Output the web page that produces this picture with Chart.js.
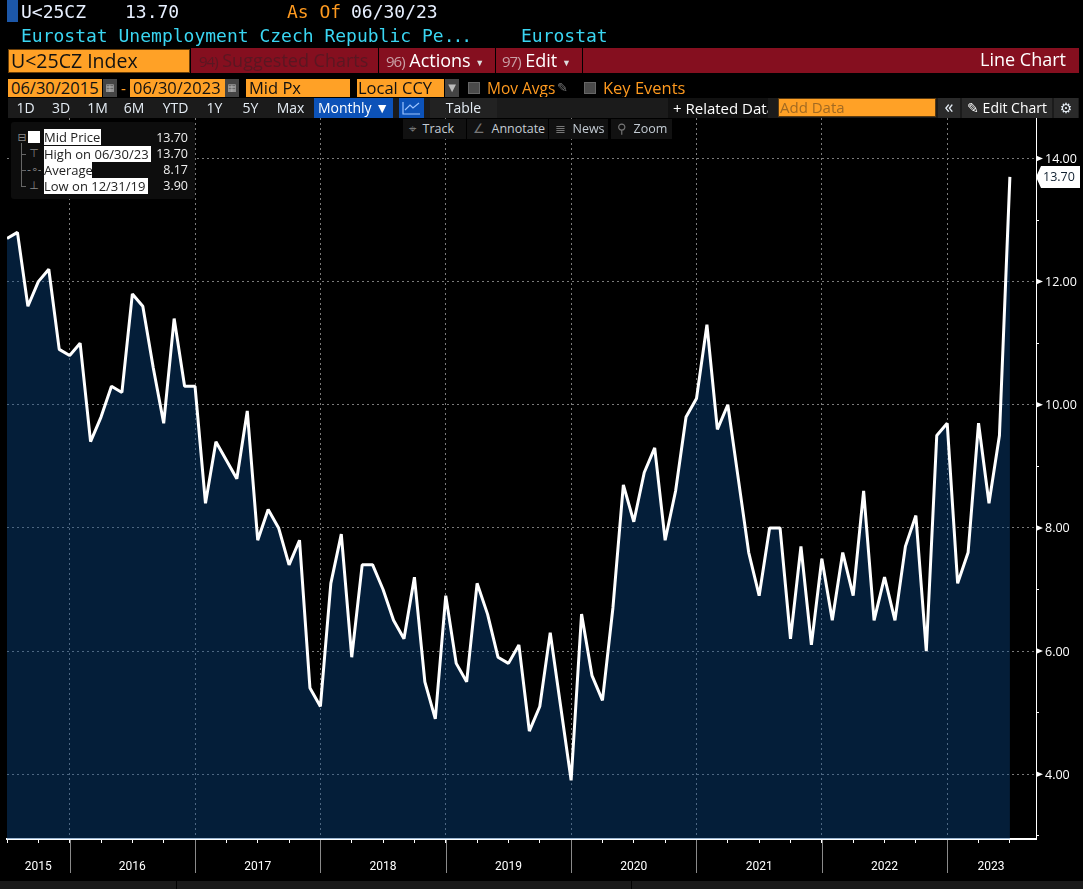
<!DOCTYPE html>
<html>
<head>
<meta charset="utf-8">
<title>U&lt;25CZ Index</title>
<script src="https://cdn.jsdelivr.net/npm/chart.js@4"></script>
<style>
  html, body { margin: 0; padding: 0; background: #000; width: 1083px; height: 889px; overflow: hidden; }
  #chart { position: absolute; left: 0; top: 0; }
  .a { position: absolute; box-sizing: border-box; white-space: nowrap; overflow: hidden; }
  .mono { font: 18px "DejaVu Sans Mono", monospace; line-height: 22px; }
  .ui { font: 18px "Open Sans", sans-serif; line-height: 24px; }
  .ui .n { font-size: 15px; letter-spacing: -1px; }
  .in { background: #ffa126; color: #111; font: 16.5px "Open Sans", sans-serif; line-height: 18px; padding-left: 3px; }
  .org { color: #ff9a1f; font: 15.5px "Open Sans", sans-serif; line-height: 18px; }
  .btn { background: #1b1b1b; color: #e4ecf4; font: 14px "Open Sans", sans-serif; line-height: 20px; text-align: center; }
  .tool { background: #111; color: #c4ccd4; font: 12.5px "Open Sans", sans-serif; line-height: 20px; }
  .cal { background: #444; color: #bbb; font: 10px "DejaVu Sans", sans-serif; line-height: 18px; text-align: center; }
  .chk { background: #4a4a4a; border: 1px solid #666; }
  .lg { background: #fff; color: #222; font: 13px "Open Sans", sans-serif; line-height: 16px; padding-left: 0; }
  .lv { color: #f0f0f0; font: 12.5px "Open Sans", sans-serif; line-height: 16px; text-align: right; }
  .tree { color: #888; font: 11px "DejaVu Sans", sans-serif; line-height: 16px; text-align: center; }
</style>
</head>
<body>
<canvas id="chart" width="1083" height="889"></canvas>

<!-- header -->
<div class="a" style="left:7px;top:0;width:11px;height:22px;background:#1c57a8"></div>
<div class="a mono" style="left:21px;top:1px;color:#e8f0ff">U&lt;25CZ</div>
<div class="a mono" style="left:125px;top:1px;color:#e8f0ff">13.70</div>
<div class="a mono" style="left:287px;top:1px;color:#ff9a1f">As Of</div>
<div class="a mono" style="left:351px;top:1px;color:#e8f0ff">06/30/23</div>
<div class="a mono" style="left:21px;top:25px;color:#3ad6f2">Eurostat Unemployment Czech Republic Pe<span style="letter-spacing:-2px">...</span></div>
<div class="a mono" style="left:521px;top:25px;color:#3ad6f2">Eurostat</div>

<!-- red bar -->
<div class="a" style="left:191px;top:48px;width:888px;height:25px;background:#850f1f"></div>
<div class="a" style="left:378px;top:48px;width:1px;height:25px;background:#000"></div>
<div class="a" style="left:495px;top:48px;width:1px;height:25px;background:#000"></div>
<div class="a" style="left:582px;top:48px;width:1px;height:25px;background:#000"></div>
<div class="a ui" style="left:8px;top:49px;width:182px;height:24px;background:#ffa126;border:1px solid #6b3f08;color:#111;padding-left:2px;line-height:22px;font-size:19.5px">U&lt;25CZ Index</div>
<div class="a ui" style="left:199px;top:48px;color:#5a1722"><span class="n">94)</span> Suggested Charts</div>
<div class="a ui" style="left:386px;top:48px;color:#fff"><span class="n" style="color:#c9a0a6">96)</span> Actions <span style="font-size:9px;color:#ddd;vertical-align:1px">▼</span></div>
<div class="a ui" style="left:502px;top:48px;color:#fff"><span class="n" style="color:#c9a0a6">97)</span> Edit <span style="font-size:9px;color:#ddd;vertical-align:1px">▼</span></div>
<div class="a ui" style="right:17px;top:47px;color:#fff">Line Chart</div>

<!-- date row -->
<div class="a in" style="left:8px;top:79px;width:94px;height:18px">06/30/2015</div>
<div class="a cal" style="left:103px;top:79px;width:14px;height:18px">▦</div>
<div class="a org" style="left:121px;top:79px">-</div>
<div class="a in" style="left:130px;top:79px;width:95px;height:18px">06/30/2023</div>
<div class="a cal" style="left:225px;top:79px;width:14px;height:18px">▦</div>
<div class="a in" style="left:246px;top:79px;width:104px;height:18px">Mid Px</div>
<div class="a in" style="left:357px;top:79px;width:87px;height:18px;padding-left:1px">Local CCY</div>
<div class="a cal" style="left:445px;top:79px;width:14px;height:18px">▼</div>
<div class="a chk" style="left:468px;top:82px;width:12px;height:12px"></div>
<div class="a org" style="left:487px;top:79px">Mov Avgs</div>
<div class="a" style="left:557px;top:79px;color:#777;font:13px 'DejaVu Sans';line-height:18px">✎</div>
<div class="a chk" style="left:584px;top:82px;width:12px;height:12px"></div>
<div class="a org" style="left:603px;top:79px;font-size:16.5px">Key Events</div>

<!-- range buttons -->
<div class="a" style="left:8px;top:98px;width:1071px;height:20px;background:#1b1b1b"></div>
<div class="a btn" style="left:8px;top:98px;width:35px;height:20px">1D</div>
<div class="a btn" style="left:44px;top:98px;width:34px;height:20px">3D</div>
<div class="a btn" style="left:80px;top:98px;width:35px;height:20px">1M</div>
<div class="a btn" style="left:116px;top:98px;width:36px;height:20px">6M</div>
<div class="a btn" style="left:154px;top:98px;width:43px;height:20px">YTD</div>
<div class="a btn" style="left:198px;top:98px;width:33px;height:20px">1Y</div>
<div class="a btn" style="left:233px;top:98px;width:35px;height:20px">5Y</div>
<div class="a btn" style="left:269px;top:98px;width:43px;height:20px">Max</div>
<div class="a btn" style="left:314px;top:98px;width:79px;height:20px;background:#0c52b8;color:#fff">Monthly ▼</div>
<div class="a btn" style="left:399px;top:98px;width:25px;height:20px;background:#0c52b8;color:#9cc4ff">
  <svg width="19" height="14" viewBox="0 0 19 14" style="margin-top:3px"><path d="M1 1V13H18M3 9L8 4L11 7L17 2" fill="none" stroke="#9cc4ff" stroke-width="1.2"/></svg>
</div>
<div class="a btn" style="left:430px;top:98px;width:67px;height:20px;background:#222">Table</div>
<div class="a btn" style="left:668px;top:98px;width:100px;height:20px;background:#111;color:#fff;text-align:left;padding-left:5px;font-size:15px">+ Related Data</div>
<div class="a" style="left:778px;top:98px;width:158px;height:19px;background:#ffa126;border:1px solid #5a3a10;color:#a26a22;font:15px 'Open Sans',sans-serif;line-height:17px;padding-left:1px">Add Data</div>
<div class="a btn" style="left:938px;top:98px;width:22px;height:20px;background:#2a2a2a;font-size:18px;line-height:17px">«</div>
<div class="a btn" style="left:962px;top:98px;width:90px;height:20px;background:#2a2a2a;color:#fff">✎ Edit Chart</div>
<div class="a btn" style="left:1054px;top:98px;width:24px;height:20px;background:#2a2a2a;font:14px 'DejaVu Sans';line-height:20px">⚙</div>

<!-- floating tools -->
<div class="a tool" style="left:403px;top:119px;width:63px;height:20px;padding-left:6px"><span style="color:#777">⌖</span>&nbsp; Track</div>
<div class="a tool" style="left:467px;top:119px;width:81px;height:20px;padding-left:6px"><span style="color:#777">∠</span>&nbsp; Annotate</div>
<div class="a tool" style="left:549px;top:119px;width:59px;height:20px;padding-left:6px"><span style="color:#777">≣</span>&nbsp; News</div>
<div class="a tool" style="left:611px;top:119px;width:61px;height:20px;padding-left:6px"><span style="color:#777">⚲</span>&nbsp; Zoom</div>

<!-- legend -->
<div class="a" style="left:11px;top:122px;width:184px;height:77px;background:#0d0d0d;border-radius:3px"></div>
<div class="a tree" style="left:17px;top:130px;width:10px;height:16px">⊟</div>
<div class="a" style="left:21px;top:143px;width:1px;height:43px;background:#666"></div>
<div class="a" style="left:21px;top:154px;width:5px;height:1px;background:#666"></div>
<div class="a" style="left:21px;top:170px;width:5px;height:1px;background:#666"></div>
<div class="a" style="left:21px;top:186px;width:5px;height:1px;background:#666"></div>
<div class="a" style="left:28px;top:131px;width:12px;height:12px;background:#fff"></div>
<div class="a tree" style="left:27px;top:146px;width:14px;height:16px">⊤</div>
<div class="a tree" style="left:27px;top:162px;width:14px;height:16px">-∘-</div>
<div class="a tree" style="left:27px;top:178px;width:14px;height:16px">⊥</div>
<div class="a lg" style="left:44px;top:129px;width:57px;height:16px">Mid Price</div>
<div class="a lg" style="left:44px;top:146px;width:107px;height:16px">High on 06/30/23</div>
<div class="a lg" style="left:44px;top:162px;width:48px;height:16px">Average</div>
<div class="a lg" style="left:44px;top:178px;width:104px;height:16px">Low on 12/31/19</div>
<div class="a lv" style="left:150px;top:130px;width:38px">13.70</div>
<div class="a lv" style="left:150px;top:146px;width:38px">13.70</div>
<div class="a lv" style="left:150px;top:162px;width:38px">8.17</div>
<div class="a lv" style="left:150px;top:178px;width:38px">3.90</div>

<!-- bottom strip -->
<div class="a" style="left:0;top:881px;width:1083px;height:8px;background:#1a1a1a"></div>
<div class="a" style="left:176px;top:881px;width:1px;height:8px;background:#000"></div>
<div class="a" style="left:631px;top:881px;width:1px;height:8px;background:#000"></div>

<script>
// monthly values, Jun 2015 .. Jun 2023
const midPrice = [
  12.7, 12.8, 11.6, 12.0, 12.2, 10.9, 10.8,
  11.0, 9.4, 9.8, 10.3, 10.2, 11.8, 11.6, 10.6, 9.7, 11.4, 10.3, 10.3,
  8.4, 9.4, 9.1, 8.8, 9.9, 7.8, 8.3, 8.0, 7.4, 7.8, 5.4, 5.1,
  7.1, 7.9, 5.9, 7.4, 7.4, 7.0, 6.5, 6.2, 7.2, 5.5, 4.9, 6.9,
  5.8, 5.5, 7.1, 6.6, 5.9, 5.8, 6.1, 4.7, 5.1, 6.3, 5.1, 3.9,
  6.6, 5.6, 5.2, 6.7, 8.7, 8.1, 8.9, 9.3, 7.8, 8.6, 9.8, 10.1,
  11.3, 9.6, 10.0, 8.8, 7.6, 6.9, 8.0, 8.0, 6.2, 7.7, 6.1, 7.5,
  6.5, 7.6, 6.9, 8.6, 6.5, 7.2, 6.5, 7.7, 8.2, 6.0, 9.5, 9.7,
  7.1, 7.6, 9.7, 8.4, 9.5, 13.7
];
const months = midPrice.map((v, i) => i);

// x axis is in months since Jun 2015
const quarterTicks = [0, 3, 6, 9, 12, 15, 18, 21, 24, 27, 30, 33, 36, 39, 42, 45, 48, 51, 54, 57, 60, 63, 66, 69, 72, 75, 78, 81, 84, 87, 90, 93, 96];
const yearEnds = [6, 18, 30, 42, 54, 66, 78, 90];
const yearLabels = ["2015", "2016", "2017", "2018", "2019", "2020", "2021", "2022", "2023"];
const yearLabelAt = [3, 12, 24, 36, 48, 60, 72, 84, 94.2];
const yTicks = [3, 4, 5, 6, 7, 8, 9, 10, 11, 12, 13, 14];

const GRID = "#7a7a7a";
const lastValue = midPrice[midPrice.length - 1];

// year separators, arrow marks on the price axis and the last value tag
const extras = {
  id: "extras",
  afterDraw(chart) {
    const { ctx, scales } = chart;
    const { x, y } = scales;
    ctx.save();
    ctx.strokeStyle = "#8a8a8a";
    ctx.lineWidth = 1;
    yearEnds.forEach((m) => {
      const px = Math.round(x.getPixelForValue(m)) + 0.5;
      ctx.beginPath();
      ctx.moveTo(px, y.bottom + 1);
      ctx.lineTo(px, y.bottom + 34);
      ctx.stroke();
    });
    ctx.fillStyle = "#fff";
    yTicks.filter((v) => v % 2 === 0).forEach((v) => {
      const py = y.getPixelForValue(v);
      ctx.beginPath();
      ctx.moveTo(x.right, py - 3);
      ctx.lineTo(x.right + 7, py);
      ctx.lineTo(x.right, py + 3);
      ctx.fill();
    });
    const tagY = y.getPixelForValue(lastValue);
    const tagX = x.right;
    ctx.beginPath();
    ctx.moveTo(tagX, tagY);
    ctx.lineTo(tagX + 5, tagY - 11);
    ctx.lineTo(tagX + 44, tagY - 11);
    ctx.lineTo(tagX + 44, tagY + 11);
    ctx.lineTo(tagX + 5, tagY + 11);
    ctx.closePath();
    ctx.fill();
    ctx.fillStyle = "#102030";
    ctx.font = '12.5px "Open Sans", sans-serif';
    ctx.textBaseline = "middle";
    ctx.fillText(lastValue.toFixed(2), tagX + 7, tagY + 1);
    ctx.restore();
  },
};

new Chart(document.getElementById("chart"), {
  type: "line",
  data: {
    labels: months,
    datasets: [
      {
        label: "Mid Price",
        data: months.map((m, i) => ({ x: m, y: midPrice[i] })),
        borderColor: "#ffffff",
        borderWidth: 3,
        borderJoinStyle: "bevel",
        backgroundColor: "rgba(10, 75, 142, 0.4)",
        fill: "start",
        pointRadius: 0,
        tension: 0,
      },
    ],
  },
  options: {
    responsive: false,
    animation: false,
    devicePixelRatio: 1,
    layout: { padding: { left: 7, top: 118, right: 0, bottom: 0 } },
    plugins: { legend: { display: false }, tooltip: { enabled: false } },
    scales: {
      x: {
        type: "linear",
        min: 0,
        max: 98.5,
        afterFit: (scale) => {
          scale.height = 50;
          scale.paddingLeft = 0;
          scale.paddingRight = 0;
        },
        afterBuildTicks: (scale) => {
          scale.ticks = quarterTicks.concat([yearLabelAt[yearLabelAt.length - 1]]).map((value) => ({ value }));
        },
        border: { color: "#ffffff", width: 2, dash: [2, 3] },
        grid: {
          color: (c) => (c.tick && yearEnds.includes(c.tick.value) ? GRID : "transparent"),
          tickColor: (c) => (c.tick && quarterTicks.includes(c.tick.value) ? "#ffffff" : "transparent"),
          tickLength: 4,
          tickBorderDash: [],
        },
        ticks: {
          autoSkip: false,
          maxRotation: 0,
          padding: 17,
          color: "#ffffff",
          font: { family: "Roboto", size: 12 },
          callback: (value) => {
            const i = yearLabelAt.indexOf(value);
            return i >= 0 ? yearLabels[i] : "";
          },
        },
      },
      y: {
        position: "right",
        min: 2.948,
        max: 14.657,
        afterFit: (scale) => { scale.width = 47; },
        afterBuildTicks: (scale) => {
          scale.ticks = yTicks.map((value) => ({ value }));
        },
        border: { color: "#ffffff", width: 1, dash: [2, 3] },
        grid: {
          color: (c) => (c.tick && c.tick.value % 2 === 0 ? GRID : "transparent"),
          tickColor: "#ffffff",
          tickLength: 3,
          tickBorderDash: [],
        },
        ticks: {
          padding: 6,
          labelOffset: 1,
          color: "#ffffff",
          font: { family: '"Open Sans"', size: 12.5 },
          callback: (value) => (value % 2 === 0 ? value.toFixed(2) : ""),
        },
      },
    },
  },
  plugins: [extras],
});
</script>
</body>
</html>
